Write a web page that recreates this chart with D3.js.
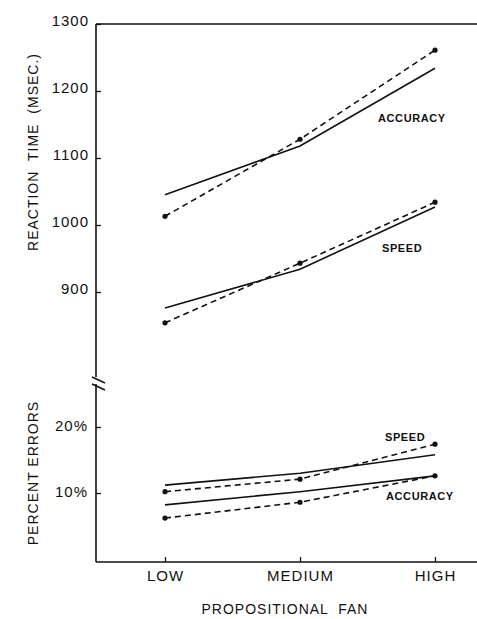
<!DOCTYPE html>
<meta charset="utf-8">
<body style="margin:0;background:#fff">
<style>
  text { font-family: "Liberation Sans", Arial, sans-serif; fill: #111; }
  .axis text { font-size: 15px; letter-spacing: 1px; }
  .axis line { stroke: #111; stroke-width: 1.3; }
  .axis path { display: none; }
  .pred { fill: none; stroke: #111; stroke-width: 1.6; }
  .obs { fill: none; stroke: #111; stroke-width: 1.6; stroke-dasharray: 6,4; }
  .lbl { font-size: 11px; font-weight: bold; letter-spacing: 0.6px; }
</style>
<div id="chart"></div>
<script src="https://cdn.jsdelivr.net/npm/d3@7"></script>
<script>
// fan levels
var categories = ["LOW", "MEDIUM", "HIGH"];

// reaction time (msec) - solid = predicted, dashed = observed
var rtAccuracyPred = [1045, 1118, 1234];
var rtAccuracyObs = [1013, 1128, 1261];
var rtSpeedPred = [876, 934, 1027];
var rtSpeedObs = [854, 943, 1034];

// percent errors
var errSpeedPred = [11.2, 13.0, 15.8];
var errSpeedObs = [10.2, 12.1, 17.4];
var errAccuracyPred = [8.2, 10.2, 12.6];
var errAccuracyObs = [6.2, 8.6, 12.6];

var rtTicks = [900, 1000, 1100, 1200, 1300];
var errTicks = [10, 20];

var width = 477, height = 619;
var axisX = 96, axisRight = 477, axisBottom = 562, axisTop = 24;

var svg = d3.select("#chart").append("svg")
  .attr("width", width)
  .attr("height", height);

var x = d3.scalePoint().domain(categories).range([165, 435]);
var yRT = d3.scaleLinear().domain([900, 1300]).range([292, axisTop]);
var yErr = d3.scaleLinear().domain([10, 20]).range([493, 427]);

// frame lines
svg.append("line").attr("x1", axisX).attr("x2", axisRight).attr("y1", axisTop).attr("y2", axisTop)
  .attr("stroke", "#111").attr("stroke-width", 1.6);
svg.append("line").attr("x1", axisX).attr("x2", axisRight).attr("y1", axisBottom).attr("y2", axisBottom)
  .attr("stroke", "#111").attr("stroke-width", 1.6);
svg.append("line").attr("x1", axisX).attr("x2", axisX).attr("y1", axisTop).attr("y2", 377)
  .attr("stroke", "#111").attr("stroke-width", 1.6);
svg.append("line").attr("x1", axisX).attr("x2", axisX).attr("y1", 384).attr("y2", axisBottom)
  .attr("stroke", "#111").attr("stroke-width", 1.6);
// axis break marks
[[377, 383], [384, 390]].forEach(function(b) {
  svg.append("line").attr("x1", axisX - 4).attr("x2", axisX + 9).attr("y1", b[0]).attr("y2", b[1])
    .attr("stroke", "#111").attr("stroke-width", 1.6);
});

// y axes
svg.append("g").attr("class", "axis")
  .attr("transform", "translate(" + axisX + ",0)")
  .call(d3.axisLeft(yRT).tickValues(rtTicks).tickFormat(d3.format("d"))
    .tickSizeInner(-5).tickSizeOuter(0).tickPadding(7))
  .selectAll("text").attr("dy", "0.1em");

svg.append("g").attr("class", "axis")
  .attr("transform", "translate(" + axisX + ",0)")
  .call(d3.axisLeft(yErr).tickValues(errTicks).tickFormat(function(d) { return d + "%"; })
    .tickSizeInner(-5).tickSizeOuter(0).tickPadding(8))
  .selectAll("text").attr("dy", "0.2em");

// x axis
svg.append("g").attr("class", "axis")
  .attr("transform", "translate(0," + axisBottom + ")")
  .call(d3.axisBottom(x).tickSizeInner(-5).tickSizeOuter(0).tickPadding(8));

// axis titles
svg.append("text")
  .attr("transform", "translate(38,152) rotate(-90)")
  .style("text-anchor", "middle")
  .style("font-size", "14px")
  .style("letter-spacing", "1px")
  .style("word-spacing", "5px")
  .text("REACTION TIME (MSEC.)");

svg.append("text")
  .attr("transform", "translate(38,473) rotate(-90)")
  .style("text-anchor", "middle")
  .style("font-size", "14px")
  .style("letter-spacing", "1px")
  .text("PERCENT ERRORS");

svg.append("text")
  .attr("x", 285).attr("y", 614)
  .style("text-anchor", "middle")
  .style("font-size", "14px")
  .style("letter-spacing", "1px")
  .style("word-spacing", "5px")
  .text("PROPOSITIONAL FAN");

// lines
var series = [
  {vals: rtAccuracyPred, y: yRT, cls: "pred"},
  {vals: rtAccuracyObs, y: yRT, cls: "obs"},
  {vals: rtSpeedPred, y: yRT, cls: "pred"},
  {vals: rtSpeedObs, y: yRT, cls: "obs"},
  {vals: errSpeedPred, y: yErr, cls: "pred"},
  {vals: errSpeedObs, y: yErr, cls: "obs"},
  {vals: errAccuracyPred, y: yErr, cls: "pred"},
  {vals: errAccuracyObs, y: yErr, cls: "obs"}
];

series.forEach(function(s) {
  var line = d3.line()
    .x(function(d, i) { return x(categories[i]); })
    .y(function(d) { return s.y(d); });
  svg.append("path")
    .datum(s.vals)
    .attr("class", s.cls)
    .attr("d", line);
  if (s.cls == "obs") {
    svg.selectAll(null)
      .data(s.vals)
      .enter().append("circle")
      .attr("cx", function(d, i) { return x(categories[i]); })
      .attr("cy", function(d) { return s.y(d); })
      .attr("r", 2.6)
      .attr("fill", "#111");
  }
});

// line labels
svg.append("text").attr("class", "lbl").attr("x", 378).attr("y", 122).text("ACCURACY");
svg.append("text").attr("class", "lbl").attr("x", 382).attr("y", 252).text("SPEED");
svg.append("text").attr("class", "lbl").attr("x", 385).attr("y", 441).text("SPEED");
svg.append("text").attr("class", "lbl").attr("x", 386).attr("y", 500).text("ACCURACY");
</script>
